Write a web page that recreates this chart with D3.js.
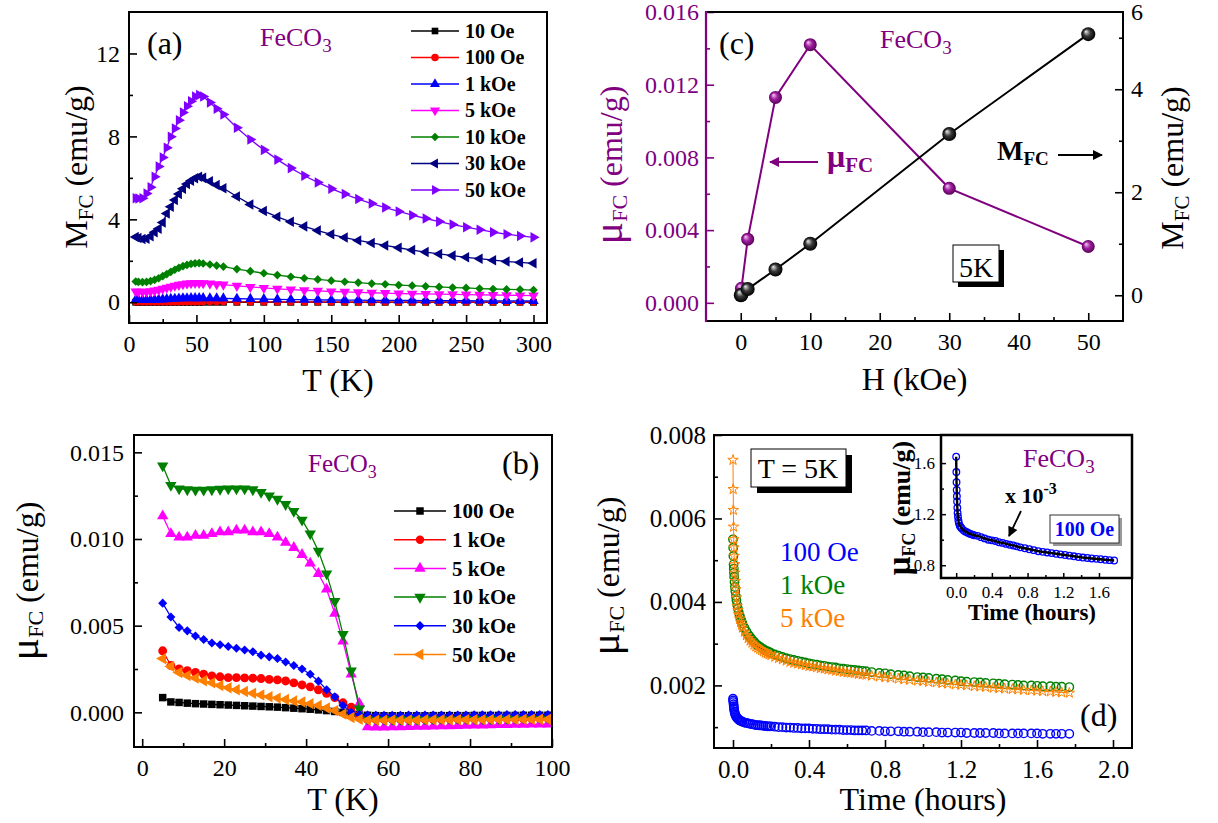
<!DOCTYPE html>
<html><head><meta charset="utf-8">
<script src="https://cdn.jsdelivr.net/npm/d3@7"></script>
<style>body{margin:0;background:#fff}</style>
</head><body>
<script>
// ---------------- DATA ----------------
// Panel (a): M_FC vs T
const tempA = [5,7,10,13,16,19,22,25,28,31,34,37,40,43,46,49,52,55,60,65,70,80,90,100,110,120,130,140,150,160,170,180,190,200,210,220,230,240,250,260,270,280,290,300];
const mA_10Oe  = [0.0012,0.0012,0.0012,0.0012,0.0012,0.0013,0.0013,0.0014,0.0015,0.0016,0.0017,0.0018,0.0019,0.002,0.002,0.002,0.002,0.002,0.002,0.0019,0.0019,0.0017,0.0016,0.0015,0.0014,0.0013,0.0013,0.0012,0.0011,0.0011,0.001,0.001,0.001,0.0009,0.0009,0.0009,0.0008,0.0008,0.0008,0.0008,0.0007,0.0007,0.0007,0.0007];
const mA_100Oe = [0.012,0.012,0.011,0.011,0.012,0.012,0.013,0.014,0.015,0.016,0.017,0.018,0.019,0.02,0.02,0.02,0.02,0.02,0.02,0.019,0.019,0.017,0.016,0.015,0.014,0.013,0.013,0.012,0.011,0.011,0.01,0.01,0.01,0.009,0.009,0.009,0.008,0.008,0.008,0.008,0.007,0.007,0.007,0.007];
const mA_1kOe  = [0.12,0.115,0.11,0.11,0.115,0.12,0.13,0.14,0.15,0.16,0.17,0.18,0.19,0.195,0.2,0.2,0.2,0.2,0.195,0.19,0.185,0.17,0.16,0.15,0.14,0.13,0.125,0.12,0.11,0.105,0.1,0.095,0.09,0.088,0.085,0.08,0.078,0.075,0.072,0.07,0.068,0.066,0.064,0.062];
const mA_5kOe  = [0.52,0.51,0.5,0.51,0.53,0.56,0.6,0.65,0.7,0.75,0.8,0.84,0.87,0.9,0.92,0.93,0.93,0.92,0.9,0.87,0.85,0.79,0.74,0.69,0.65,0.61,0.58,0.55,0.52,0.5,0.48,0.46,0.44,0.42,0.41,0.4,0.39,0.38,0.37,0.36,0.35,0.34,0.33,0.32];
const mA_10kOe = [1.0,0.98,0.97,0.98,1.02,1.08,1.16,1.26,1.36,1.47,1.57,1.66,1.74,1.8,1.85,1.88,1.89,1.87,1.82,1.77,1.72,1.6,1.5,1.4,1.31,1.23,1.16,1.1,1.04,0.99,0.95,0.9,0.87,0.83,0.8,0.77,0.74,0.71,0.69,0.66,0.64,0.62,0.61,0.59];
const mA_30kOe = [3.15,3.1,3.05,3.06,3.18,3.38,3.55,3.85,4.28,4.61,4.93,5.22,5.48,5.7,5.86,5.98,6.05,6.0,5.84,5.66,5.5,5.1,4.72,4.4,4.12,3.88,3.66,3.46,3.28,3.12,2.98,2.86,2.74,2.63,2.52,2.42,2.33,2.25,2.17,2.1,2.03,1.97,1.92,1.88];
const mA_50kOe = [5.02,5.0,5.02,5.25,5.55,6.05,6.55,6.98,7.45,7.98,8.38,8.78,9.15,9.45,9.7,9.92,10.0,9.92,9.63,9.33,9.06,8.42,7.85,7.35,6.88,6.47,6.1,5.78,5.48,5.22,4.98,4.76,4.57,4.38,4.2,4.04,3.89,3.75,3.62,3.5,3.38,3.28,3.2,3.13];
const legendA = ["10 Oe","100 Oe","1 kOe","5 kOe","10 kOe","30 kOe","50 kOe"];
const colorsA = ["#000000","#ff0000","#0000ff","#ff00ff","#008000","#000080","#8000ff"];
const shapesA = ["square","circle","up","down","diamond","left","right"];
const xTicksA = [0,50,100,150,200,250,300];
const yTicksA = [0,4,8,12];

// Panel (b): mu_FC vs T
const tempB = [5,7,9,11,13,15,17,19,21,23,25,27,29,31,33,35,37,39,41,43,45,47,49,51,53,55,57,59,61,63,65,67,69,71,73,75,77,79,81,83,85,87,89,91,93,95,97,99];
const muB_100Oe = [0.00085,0.0006,0.00057,0.00053,0.0005,0.00048,0.00046,0.00044,0.00042,0.0004,0.00038,0.00036,0.00034,0.00032,0.0003,0.00027,0.00024,0.00021,0.00018,0.00014,0.0001,0.00005,0.0,-0.00006,-0.00012,-0.00017,-0.00019,-0.0002,-0.0002,-0.0002,-0.0002,-0.0002,-0.0002,-0.00019,-0.00019,-0.00019,-0.00019,-0.00019,-0.00018,-0.00018,-0.00018,-0.00018,-0.00018,-0.00018,-0.00017,-0.00017,-0.00017,-0.00017];
const muB_1kOe = [0.00355,0.0027,0.0025,0.0024,0.0023,0.0022,0.0021,0.00205,0.002,0.002,0.00199,0.00197,0.00195,0.0019,0.00187,0.00181,0.0017,0.00158,0.00147,0.0013,0.0011,0.00085,0.00055,0.0003,-0.0002,-0.0004,-0.00041,-0.00041,-0.0004,-0.0004,-0.0004,-0.0004,-0.00039,-0.00039,-0.00039,-0.00038,-0.00038,-0.00038,-0.00037,-0.00037,-0.00037,-0.00036,-0.00036,-0.00036,-0.00036,-0.00035,-0.00035,-0.00035];
const muB_5kOe = [0.01133,0.0103,0.0101,0.0101,0.0102,0.0102,0.0103,0.0104,0.0104,0.0105,0.0105,0.0104,0.0104,0.0103,0.0101,0.0098,0.0095,0.0091,0.0086,0.008,0.0071,0.0057,0.0041,0.0022,0.0005,-0.00085,-0.00086,-0.00086,-0.00085,-0.00084,-0.00083,-0.00082,-0.00081,-0.0008,-0.00079,-0.00078,-0.00077,-0.00076,-0.00075,-0.00074,-0.00073,-0.00072,-0.00071,-0.0007,-0.0007,-0.00069,-0.00068,-0.00068];
const muB_10kOe = [0.01423,0.0131,0.0129,0.01285,0.01283,0.01283,0.01285,0.01288,0.0129,0.0129,0.0129,0.01285,0.0127,0.0125,0.0123,0.012,0.0116,0.0111,0.0103,0.0093,0.008,0.0064,0.0045,0.0024,0.0002,-0.0004,-0.0004,-0.00039,-0.00039,-0.00038,-0.00038,-0.00038,-0.00037,-0.00037,-0.00037,-0.00036,-0.00036,-0.00036,-0.00035,-0.00035,-0.00035,-0.00034,-0.00034,-0.00034,-0.00033,-0.00033,-0.00033,-0.00032];
const muB_30kOe = [0.0063,0.0055,0.0049,0.0047,0.0044,0.0042,0.004,0.0039,0.0038,0.0037,0.0036,0.0035,0.0033,0.0032,0.0031,0.0029,0.0027,0.0025,0.0022,0.0018,0.0013,0.0009,0.0004,0.0,-0.00012,-0.00016,-0.00017,-0.00017,-0.00017,-0.00017,-0.00016,-0.00016,-0.00016,-0.00016,-0.00015,-0.00015,-0.00015,-0.00015,-0.00014,-0.00014,-0.00014,-0.00014,-0.00013,-0.00013,-0.00013,-0.00013,-0.00012,-0.00012];
const muB_50kOe = [0.0031,0.00265,0.0023,0.00212,0.00197,0.00182,0.0017,0.00155,0.00142,0.0013,0.0012,0.0011,0.001,0.0009,0.00082,0.00074,0.00066,0.0006,0.0005,0.0004,0.00025,0.0001,-0.0001,-0.0003,-0.0004,-0.00045,-0.00045,-0.00045,-0.00044,-0.00044,-0.00044,-0.00044,-0.00043,-0.00043,-0.00043,-0.00043,-0.00042,-0.00042,-0.00042,-0.00042,-0.00041,-0.00041,-0.00041,-0.00041,-0.0004,-0.0004,-0.0004,-0.0004];
const legendB = ["100 Oe","1 kOe","5 kOe","10 kOe","30 kOe","50 kOe"];
const colorsB = ["#000000","#ff0000","#ff00ff","#008000","#0000ff","#ff8000"];
const shapesB = ["square","circle","up","down","diamond","left"];
const xTicksB = [0,20,40,60,80,100];
const yTicksB = [0,0.005,0.010,0.015];

// Panel (c): vs field H at 5 K
const fieldMu = [0.1,1,5,10,30,50];
const muFC_H  = [0.0008,0.0035,0.0113,0.0142,0.0063,0.0031];
const fieldM  = [0.01,0.1,1,5,10,30,50];
const mFC_H   = [0.0,0.01,0.12,0.5,1.0,3.13,5.07];
const xTicksC = [0,10,20,30,40,50];
const yTicksCL = [0,0.004,0.008,0.012,0.016];
const yTicksCR = [0,2,4];

// Panel (d): relaxation at 5 K
const timeD = [0,0.001,0.002,0.003,0.004,0.005,0.006,0.008,0.01,0.012,0.015,0.018,0.022,0.026,0.03,0.035,0.04,0.045,0.05,0.06,0.07,0.08,0.09,0.1,0.11,0.12,0.13,0.14,0.15,0.16,0.17,0.18,0.19,0.2,0.22,0.24,0.26,0.28,0.3,0.32,0.34,0.36,0.38,0.4,0.42,0.44,0.46,0.48,0.5,0.52,0.54,0.56,0.58,0.6,0.62,0.64,0.66,0.68,0.7,0.73,0.77,0.8,0.83,0.87,0.9,0.93,0.97,1.0,1.03,1.07,1.1,1.13,1.17,1.2,1.23,1.27,1.3,1.33,1.37,1.4,1.43,1.47,1.5,1.53,1.57,1.6,1.63,1.67,1.7,1.73,1.77];
const muD_100Oe = [0.00168,0.00164,0.0016,0.00155,0.0015,0.00146,0.00142,0.00137,0.00133,0.0013,0.00127,0.00124,0.00122,0.0012,0.00118,0.00116,0.00115,0.00114,0.00113,0.00111,0.0011,0.00109,0.00108,0.00107,0.00106,0.00105,0.00105,0.00104,0.00104,0.00103,0.00103,0.00102,0.00102,0.00102,0.00101,0.001,0.001,0.00099,0.00099,0.00098,0.00098,0.00097,0.00097,0.00097,0.00096,0.00096,0.00095,0.00095,0.00095,0.00094,0.00094,0.00094,0.00093,0.00093,0.00093,0.00092,0.00092,0.00092,0.00092,0.00091,0.00091,0.0009,0.0009,0.0009,0.00089,0.00089,0.00089,0.00088,0.00088,0.00088,0.00087,0.00087,0.00087,0.00087,0.00086,0.00086,0.00086,0.00086,0.00086,0.00085,0.00085,0.00085,0.00085,0.00085,0.00085,0.00085,0.00084,0.00084,0.00084,0.00084,0.00084];
const muD_1kOe = [0.0055,0.0053,0.0051,0.0049,0.0048,0.0047,0.0046,0.00448,0.00436,0.00426,0.00414,0.00404,0.00393,0.00384,0.00376,0.00368,0.00361,0.00354,0.00348,0.00338,0.0033,0.00322,0.00316,0.0031,0.00305,0.003,0.00296,0.00293,0.0029,0.00287,0.00284,0.00282,0.0028,0.00278,0.00274,0.00271,0.00268,0.00265,0.00263,0.00261,0.00259,0.00257,0.00255,0.00253,0.00251,0.0025,0.00248,0.00247,0.00245,0.00244,0.00243,0.00241,0.0024,0.00239,0.00238,0.00237,0.00236,0.00235,0.00234,0.00232,0.0023,0.00229,0.00227,0.00225,0.00224,0.00222,0.0022,0.00219,0.00218,0.00216,0.00215,0.00213,0.00212,0.0021,0.00209,0.00208,0.00207,0.00206,0.00205,0.00204,0.00203,0.00202,0.00201,0.002,0.002,0.00199,0.00198,0.00198,0.00197,0.00197,0.00196];
const muD_5kOe = [0.0074,0.0067,0.0062,0.0058,0.0055,0.0053,0.0051,0.0049,0.0047,0.0045,0.0043,0.0041,0.0039,0.0038,0.0037,0.0036,0.00352,0.00345,0.00338,0.00328,0.0032,0.00313,0.00307,0.00302,0.00297,0.00293,0.0029,0.00287,0.00284,0.00281,0.00278,0.00276,0.00274,0.00272,0.00268,0.00265,0.00262,0.00259,0.00256,0.00254,0.00252,0.0025,0.00248,0.00246,0.00245,0.00243,0.00241,0.0024,0.00238,0.00237,0.00235,0.00234,0.00232,0.00231,0.0023,0.00229,0.00227,0.00226,0.00225,0.00223,0.00221,0.00219,0.00218,0.00216,0.00214,0.00213,0.00211,0.0021,0.00208,0.00207,0.00205,0.00204,0.00202,0.00201,0.002,0.00198,0.00197,0.00196,0.00194,0.00193,0.00192,0.00191,0.0019,0.00189,0.00188,0.00187,0.00186,0.00185,0.00184,0.00183,0.00182];
const xTicksD = [0,0.4,0.8,1.2,1.6,2.0];
const yTicksD = [0.002,0.004,0.006,0.008];
// Inset of (d): 100 Oe, in units of 1e-3 emu/g
const timeInset = [0,0.002,0.004,0.006,0.008,0.01,0.013,0.016,0.02,0.025,0.03,0.04,0.05,0.06,0.08,0.1,0.12,0.14,0.16,0.18,0.2,0.24,0.28,0.32,0.36,0.4,0.44,0.48,0.52,0.56,0.6,0.64,0.68,0.72,0.77,0.82,0.87,0.92,0.97,1.02,1.07,1.12,1.17,1.22,1.27,1.32,1.37,1.42,1.47,1.52,1.57,1.62,1.67,1.72,1.77];
const muInset = [1.65,1.53,1.45,1.39,1.34,1.3,1.25,1.21,1.18,1.15,1.13,1.11,1.1,1.09,1.075,1.065,1.058,1.05,1.045,1.04,1.035,1.03,1.02,1.01,1.0,0.995,0.99,0.98,0.975,0.967,0.96,0.955,0.948,0.94,0.933,0.925,0.918,0.91,0.905,0.9,0.895,0.89,0.885,0.88,0.875,0.87,0.865,0.86,0.857,0.853,0.85,0.847,0.843,0.84,0.837];
const xTicksIn = [0,0.4,0.8,1.2,1.6];
const yTicksIn = [0.8,1.2,1.6];

// ---------------- DRAWING ----------------
const FONT = '"Liberation Serif","Times New Roman",serif';
const PURPLE = "#800080";
const svg = d3.select("body").append("svg").attr("width",1218).attr("height",823)
  .style("font-family",FONT).style("background","#fff");
const defs = svg.append("defs");

function sphereGrad(id, light, mid, dark){
  const g = defs.append("radialGradient").attr("id",id).attr("cx","0.5").attr("cy","0.5").attr("r","0.5").attr("fx","0.32").attr("fy","0.3");
  g.append("stop").attr("offset","0").attr("stop-color",light);
  g.append("stop").attr("offset","0.5").attr("stop-color",mid);
  g.append("stop").attr("offset","1").attr("stop-color",dark);
}
sphereGrad("sphBlack","#eeeeee","#3a3a3a","#000000");
sphereGrad("sphPurple","#f6d0f6","#a020a0","#5a005a");

function arrowMarker(id,color){
  defs.append("marker").attr("id",id).attr("viewBox","0 0 10 10").attr("refX",9).attr("refY",5)
    .attr("markerWidth",12).attr("markerHeight",10).attr("markerUnits","userSpaceOnUse").attr("orient","auto")
    .append("path").attr("d","M0,0 L10,5 L0,10 Z").attr("fill",color);
}
arrowMarker("arrP",PURPLE); arrowMarker("arrK","#000");

const SHAPES = {
  square:{t:d3.symbolSquare,r:0}, circle:{t:d3.symbolCircle,r:0}, up:{t:d3.symbolTriangle,r:0},
  down:{t:d3.symbolTriangle,r:180}, diamond:{t:d3.symbolDiamond2,r:0}, left:{t:d3.symbolTriangle,r:-90},
  right:{t:d3.symbolTriangle,r:90}
};

function axis(scale, side, pos, major, minor, fmt, o){
  o = Object.assign({color:"#000", fs:24, len:8, mlen:4, pad:10, sw:1.6}, o||{});
  const mk = side==="bottom"?d3.axisBottom: side==="left"?d3.axisLeft: d3.axisRight;
  const tr = side==="bottom"?`translate(0,${pos})`:`translate(${pos},0)`;
  const a = svg.append("g").attr("transform",tr)
    .call(mk(scale).tickValues(major).tickSize(-o.len).tickPadding(o.pad).tickFormat(fmt));
  a.select(".domain").remove();
  a.selectAll("line").attr("stroke",o.color).attr("stroke-width",o.sw);
  a.selectAll("text").attr("fill",o.color).style("font-family",FONT).style("font-size",o.fs+"px");
  if(minor){
    const m = svg.append("g").attr("transform",tr).call(mk(scale).tickValues(minor).tickSize(-o.mlen).tickFormat(""));
    m.select(".domain").remove();
    m.selectAll("line").attr("stroke",o.color).attr("stroke-width",o.sw);
  }
}
function frame(x0,y0,x1,y1,sw){
  svg.append("rect").attr("x",x0).attr("y",y0).attr("width",x1-x0).attr("height",y1-y0)
    .attr("fill","none").attr("stroke","#000").attr("stroke-width",sw||2);
}
function rich(x,y,parts,o){
  o=o||{};
  const t = svg.append("text").attr("x",x).attr("y",y).attr("text-anchor",o.anchor||"start")
    .attr("fill",o.fill||"#000");
  if(o.rotate) t.attr("transform",`rotate(-90,${x},${y})`);
  parts.forEach(p=>{
    const s=t.append("tspan").text(p.t).style("font-size",p.fs+"px");
    if(p.dy) s.attr("dy",p.dy);
    if(p.bold||o.bold) s.style("font-weight","bold");
    if(p.fill) s.attr("fill",p.fill);
  });
  return t;
}
function series(xs, ys, x, y, color, shape, size, lw){
  const pts = xs.map((v,i)=>[v,ys[i]]);
  svg.append("path").datum(pts).attr("fill","none").attr("stroke",color).attr("stroke-width",lw||1.3)
    .attr("d",d3.line().x(d=>x(d[0])).y(d=>y(d[1])));
  const sh = SHAPES[shape];
  svg.append("g").selectAll("path").data(pts).join("path")
    .attr("d",d3.symbol().type(sh.t).size(size))
    .attr("transform",d=>`translate(${x(d[0])},${y(d[1])}) rotate(${sh.r})`)
    .attr("fill",color);
}
function legendRow(x0,x1,xt,yy,color,shape,size,label,fs){
  svg.append("line").attr("x1",x0).attr("x2",x1).attr("y1",yy).attr("y2",yy).attr("stroke",color).attr("stroke-width",1.5);
  const sh=SHAPES[shape];
  svg.append("path").attr("d",d3.symbol().type(sh.t).size(size)())
    .attr("transform",`translate(${(x0+x1)/2},${yy}) rotate(${sh.r})`).attr("fill",color);
  svg.append("text").attr("x",xt).attr("y",yy+fs*0.34).text(label)
    .style("font-size",fs+"px").style("font-weight","bold").attr("fill","#000");
}
function shadowBox(x,y,w,h,off,shadow,stroke){
  svg.append("rect").attr("x",x+off).attr("y",y+off).attr("width",w).attr("height",h).attr("fill",shadow);
  svg.append("rect").attr("x",x).attr("y",y).attr("width",w).attr("height",h).attr("fill","#fff").attr("stroke",stroke||"#000").attr("stroke-width",1);
}

// ===== Panel (a) =====
{
  const L=129,R=547,T=12,B=323;
  const x = d3.scaleLinear().domain([0,310]).range([L,R]);
  const y = d3.scaleLinear().domain([-1,14]).range([B,T]);
  const all=[mA_10Oe,mA_100Oe,mA_1kOe,mA_5kOe,mA_10kOe,mA_30kOe,mA_50kOe];
  all.forEach((s,i)=>series(tempA,s,x,y,colorsA[i],shapesA[i],i===1?40:48,1.3));
  axis(x,"bottom",B,xTicksA,[25,75,125,175,225,275],d3.format("d"),{pad:12});
  axis(y,"left",L,yTicksA,[2,6,10],d3.format("d"),{pad:9});
  frame(L,T,R,B);
  const rows=[31,57.5,84,110.5,137,163.5,190];
  legendA.forEach((lab,i)=>legendRow(411,459,465,rows[i],colorsA[i],shapesA[i],44,lab,20));
  rich(147,54,[{t:"(a)",fs:32}]);
  rich(260,46,[{t:"FeCO",fs:26},{t:"3",fs:19,dy:6}],{fill:PURPLE});
  rich((L+R)/2,391,[{t:"T (K)",fs:32}],{anchor:"middle"});
  rich(87,167,[{t:"M",fs:32},{t:"FC",fs:21,dy:6},{t:" (emu/g)",fs:32,dy:-6}],{anchor:"middle",rotate:true});
}

// ===== Panel (c) =====
{
  const L=706,R=1123,T=12,B=321;
  const x = d3.scaleLinear().domain([-5,55]).range([L,R]);
  const yL = d3.scaleLinear().domain([-0.001,0.016]).range([B,T]);
  const yR = d3.scaleLinear().domain([-0.5,5.5]).range([B,T]);
  const pm = fieldMu.map((h,i)=>[h,muFC_H[i]]);
  svg.append("path").datum(pm).attr("fill","none").attr("stroke",PURPLE).attr("stroke-width",2)
    .attr("d",d3.line().x(d=>x(d[0])).y(d=>yL(d[1])));
  const pk = fieldM.map((h,i)=>[h,mFC_H[i]]);
  svg.append("path").datum(pk).attr("fill","none").attr("stroke","#000").attr("stroke-width",2)
    .attr("d",d3.line().x(d=>x(d[0])).y(d=>yR(d[1])));
  svg.append("g").selectAll("circle").data(pm).join("circle")
    .attr("cx",d=>x(d[0])).attr("cy",d=>yL(d[1])).attr("r",6.5).attr("fill","url(#sphPurple)");
  svg.append("g").selectAll("circle").data(pk).join("circle")
    .attr("cx",d=>x(d[0])).attr("cy",d=>yR(d[1])).attr("r",7).attr("fill","url(#sphBlack)");
  axis(x,"bottom",B,xTicksC,[5,15,25,35,45],d3.format("d"),{pad:12});
  axis(yL,"left",L,yTicksCL,[0.002,0.006,0.010,0.014],d3.format(".3f"),{pad:7,color:PURPLE});
  axis(yR,"right",R,yTicksCR,[1,3,5],d3.format("d"),{pad:8});
  svg.append("text").attr("x",R+8).attr("y",yR(5.5)).attr("dy","0.32em").text("6").style("font-size","24px");
  frame(L,T,R,B);
  svg.append("line").attr("x1",L).attr("x2",L).attr("y1",T-1).attr("y2",B+1).attr("stroke",PURPLE).attr("stroke-width",2.2);
  rich(719,54,[{t:"(c)",fs:32}]);
  rich(880,48,[{t:"FeCO",fs:26},{t:"3",fs:19,dy:6}],{fill:PURPLE});
  svg.append("line").attr("x1",818).attr("x2",770).attr("y1",162).attr("y2",162).attr("stroke",PURPLE).attr("stroke-width",2).attr("marker-end","url(#arrP)");
  rich(827,167,[{t:"μ",fs:32},{t:"FC",fs:21,dy:5}],{fill:PURPLE,bold:true});
  rich(997,160,[{t:"M",fs:28},{t:"FC",fs:19,dy:5}],{bold:true});
  svg.append("line").attr("x1",1058).attr("x2",1102).attr("y1",155).attr("y2",155).attr("stroke","#000").attr("stroke-width",2).attr("marker-end","url(#arrK)");
  shadowBox(953,245,46,37,5,"#000");
  rich(976,277,[{t:"5K",fs:28}],{anchor:"middle"});
  rich((L+R)/2,390,[{t:"H (kOe)",fs:32}],{anchor:"middle"});
  rich(622,165,[{t:"μ",fs:42},{t:"FC",fs:22,dy:5},{t:" (emu/g)",fs:32,dy:-5}],{anchor:"middle",rotate:true,fill:PURPLE});
  rich(1183,168,[{t:"M",fs:32},{t:"FC",fs:21,dy:6},{t:" (emu/g)",fs:32,dy:-6}],{anchor:"middle",rotate:true});
}

// ===== Panel (b) =====
{
  const L=134,R=552,T=435,B=747;
  const x = d3.scaleLinear().domain([-2,100]).range([L,R]);
  const y = d3.scaleLinear().domain([-0.002,0.016]).range([B,T]);
  const all=[muB_100Oe,muB_1kOe,muB_5kOe,muB_10kOe,muB_30kOe,muB_50kOe];
  const sizes=[56,62,56,56,52,56];
  all.forEach((s,i)=>series(tempB,s,x,y,colorsB[i],shapesB[i],sizes[i],1.3));
  axis(x,"bottom",B,xTicksB,[10,30,50,70,90],d3.format("d"),{pad:12});
  axis(y,"left",L,yTicksB,[0.0025,0.0075,0.0125],d3.format(".3f"),{pad:10});
  frame(L,T,R,B);
  const rows=[511,539.7,568.4,597.1,625.8,654.5];
  legendB.forEach((lab,i)=>legendRow(394,446,452,rows[i],colorsB[i],shapesB[i],56,lab,21));
  rich(502,474,[{t:"(b)",fs:32}]);
  rich(308,472,[{t:"FeCO",fs:25},{t:"3",fs:18,dy:6}],{fill:PURPLE});
  rich((L+R)/2,810,[{t:"T (K)",fs:32}],{anchor:"middle"});
  rich(38,581,[{t:"μ",fs:42},{t:"FC",fs:22,dy:5},{t:"  (emu/g)",fs:32,dy:-5}],{anchor:"middle",rotate:true});
}

// ===== Panel (d) =====
{
  const L=714,R=1132,T=435,B=748;
  const x = d3.scaleLinear().domain([-0.1,2.1]).range([L,R]);
  const y = d3.scaleLinear().domain([0.0005,0.008]).range([B,T]);
  const ptsB = timeD.map((t,i)=>[t,muD_100Oe[i]]);
  const ptsG = timeD.map((t,i)=>[t,muD_1kOe[i]]);
  const ptsO = timeD.map((t,i)=>[t,muD_5kOe[i]]);
  svg.append("g").selectAll("circle").data(ptsB).join("circle").attr("cx",d=>x(d[0])).attr("cy",d=>y(d[1]))
    .attr("r",4.2).attr("fill","none").attr("stroke","#0000ff").attr("stroke-width",1.4);
  svg.append("g").selectAll("circle").data(ptsG).join("circle").attr("cx",d=>x(d[0])).attr("cy",d=>y(d[1]))
    .attr("r",4.2).attr("fill","none").attr("stroke","#008000").attr("stroke-width",1.4);
  svg.append("path").datum(ptsO).attr("fill","none").attr("stroke","#ff8000").attr("stroke-width",1)
    .attr("d",d3.line().x(d=>x(d[0])).y(d=>y(d[1])));
  svg.append("g").selectAll("path").data(ptsO).join("path").attr("d",d3.symbol().type(d3.symbolStar).size(34))
    .attr("transform",d=>`translate(${x(d[0])},${y(d[1])})`).attr("fill","none").attr("stroke","#ff8000").attr("stroke-width",1);
  axis(x,"bottom",B,xTicksD,[0.2,0.6,1.0,1.4,1.8],d3.format(".1f"),{pad:12,fs:25});
  axis(y,"left",L,yTicksD,[0.001,0.003,0.005,0.007],d3.format(".3f"),{pad:8,fs:25});
  frame(L,T,R,B);
  shadowBox(751,449,95,38,6,"#000");
  rich(798,478,[{t:"T = 5K",fs:28}],{anchor:"middle"});
  rich(780,561,[{t:"100 Oe",fs:27}],{fill:"#0000ff"});
  rich(780,594,[{t:"1 kOe",fs:27}],{fill:"#008000"});
  rich(780,627,[{t:"5 kOe",fs:27}],{fill:"#ff8000"});
  rich(1080,726,[{t:"(d)",fs:32}]);
  rich((L+R)/2,810,[{t:"Time (hours)",fs:32}],{anchor:"middle"});
  rich(619,576,[{t:"μ",fs:42},{t:"FC",fs:22,dy:5},{t:"  (emu/g)",fs:32,dy:-5}],{anchor:"middle",rotate:true});

  // ----- inset -----
  const iL=941,iR=1132,iT=435,iB=578;
  svg.append("rect").attr("x",iL).attr("y",iT).attr("width",iR-iL).attr("height",iB-iT).attr("fill","#fff");
  const xi = d3.scaleLinear().domain([-0.17,1.97]).range([iL,iR]);
  const yi = d3.scaleLinear().domain([0.7,1.82]).range([iB,iT]);
  const pi = timeInset.map((t,i)=>[t,muInset[i]]);
  svg.append("g").selectAll("circle").data(pi).join("circle").attr("cx",d=>xi(d[0])).attr("cy",d=>yi(d[1]))
    .attr("r",3.3).attr("fill","none").attr("stroke","#0000ff").attr("stroke-width",1.3);
  svg.append("path").datum(pi).attr("fill","none").attr("stroke","#000").attr("stroke-width",2.4)
    .attr("d",d3.line().curve(d3.curveMonotoneX).x(d=>xi(d[0])).y(d=>yi(d[1])));
  axis(xi,"bottom",iB,xTicksIn,[0.2,0.6,1.0,1.4],d3.format(".1f"),{pad:8,fs:17,len:5,mlen:3,sw:1.5});
  axis(yi,"left",iL,yTicksIn,[1.0,1.4],d3.format(".1f"),{pad:6,fs:17,len:5,mlen:3,sw:1.5});
  svg.append("rect").attr("x",iL).attr("y",iT).attr("width",iR-iL).attr("height",iB-iT).attr("fill","none").attr("stroke","#000").attr("stroke-width",2.5);
  rich(1023,467,[{t:"FeCO",fs:26},{t:"3",fs:19,dy:6}],{fill:PURPLE});
  rich(1005,503,[{t:"x 10",fs:22},{t:"-3",fs:16,dy:-9}],{bold:true});
  svg.append("line").attr("x1",1021).attr("y1",511).attr("x2",1009).attr("y2",536).attr("stroke","#000").attr("stroke-width",1.8).attr("marker-end","url(#arrK)");
  shadowBox(1050,515,69,28,3,"#999","#333");
  rich(1084.5,536,[{t:"100 Oe",fs:20}],{anchor:"middle",bold:true,fill:"#0000ff"});
  rich(1032,620,[{t:"Time (hours)",fs:23}],{anchor:"middle",bold:true});
  rich(910,508,[{t:"μ",fs:33},{t:"FC",fs:18,dy:5},{t:" (emu/g)",fs:26,dy:-5}],{anchor:"middle",rotate:true,bold:true});
}
</script>
</body></html>
